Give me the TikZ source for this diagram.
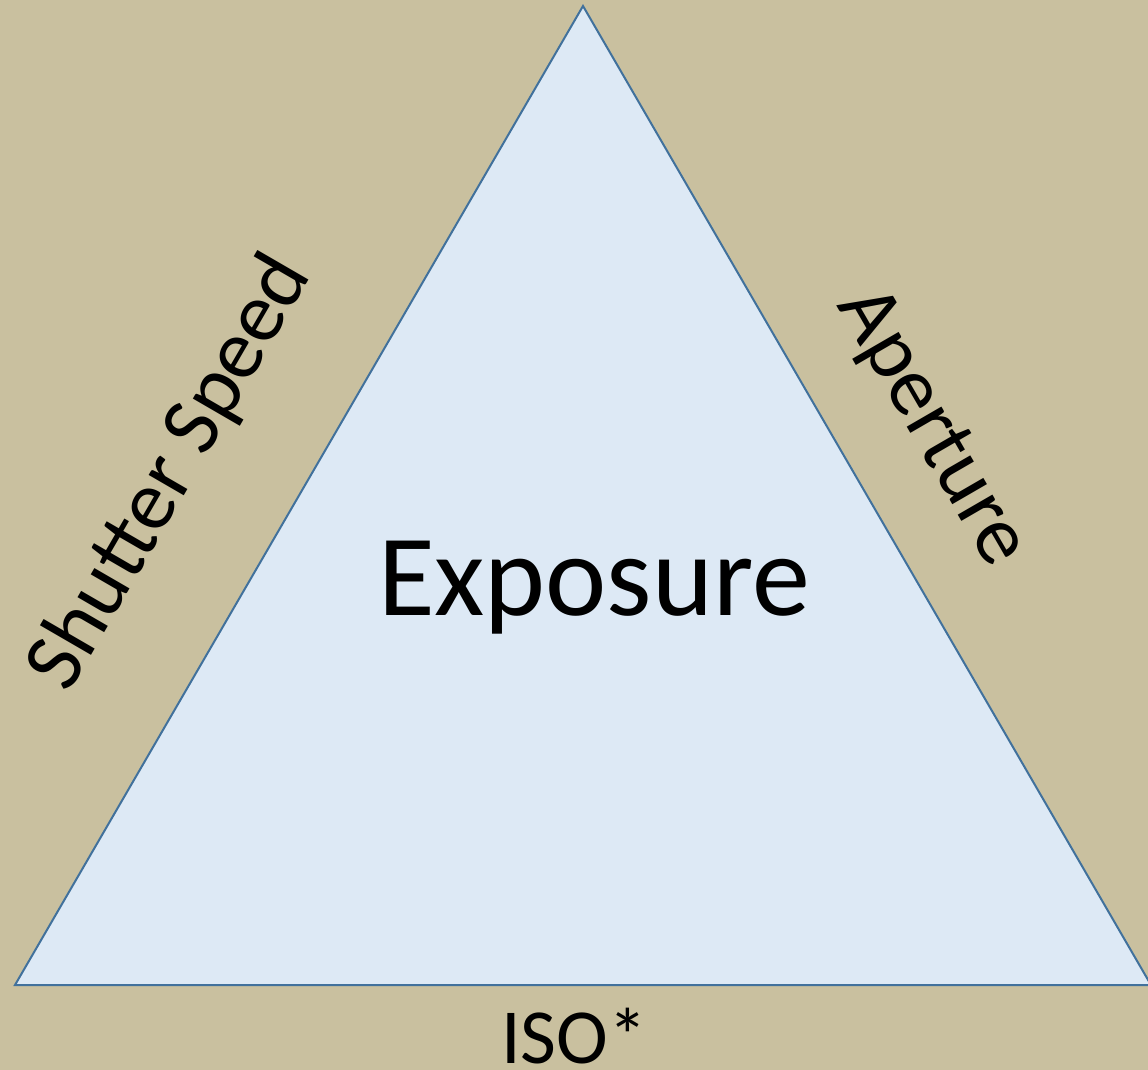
\documentclass[tikz,border=0pt]{standalone}
\usepackage{fontspec}
\setmainfont{Carlito}
\definecolor{bgtan}{HTML}{C9C09F}
\definecolor{trifill}{HTML}{DDE9F5}
\definecolor{tristroke}{HTML}{41719C}
\begin{document}
\begin{tikzpicture}[x=1pt,y=-1pt,
  lbl/.style={inner sep=0pt, text=black},
]
\path[fill=bgtan] (0,0) rectangle (1148,1070);
\useasboundingbox (0,0) rectangle (1148,1070);
\coordinate (top) at (583,6);
\coordinate (bl) at (15,985);
\coordinate (br) at (1151,985);
\draw[fill=trifill, draw=tristroke, line width=2pt, line join=miter] (top) -- (bl) -- (br) -- cycle;
\node[lbl, anchor=base, font=\fontsize{116}{120}\selectfont] (exp) at (594,615) {Exposure};
\node[lbl, font=\fontsize{85}{90}\selectfont, rotate=59.9] (ss) at (171,473) {Shutter Speed};
\node[lbl, font=\fontsize{84}{90}\selectfont, rotate=-59.9] (ap) at (931,428) {Aperture};
\node[lbl, anchor=base, font=\fontsize{78}{80}\selectfont] (iso) at (574,1063) {ISO*};
\end{tikzpicture}
\end{document}
